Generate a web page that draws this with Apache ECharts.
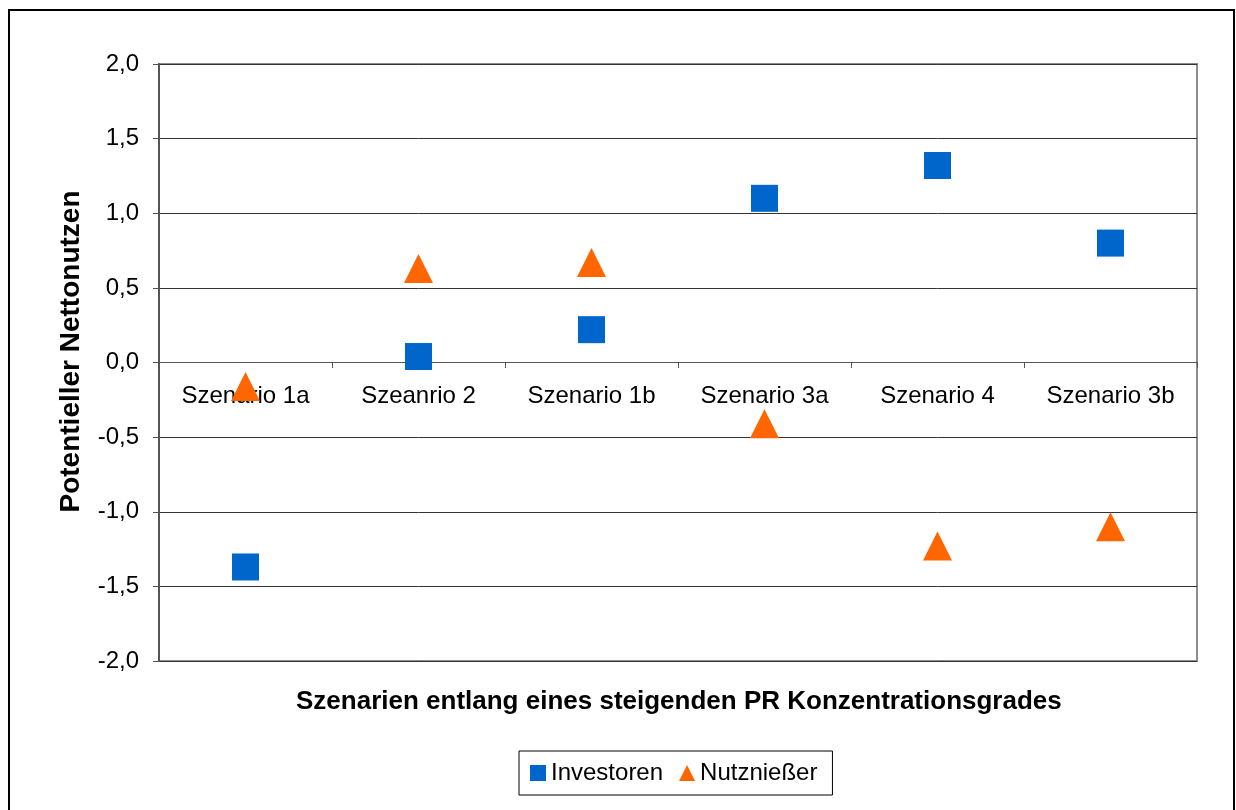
<!DOCTYPE html>
<html>
<head>
<meta charset="utf-8">
<script src="https://cdn.jsdelivr.net/npm/echarts@6/dist/echarts.min.js"></script>
<style>html,body{margin:0;padding:0;background:#fff}#c{width:1236px;height:810px}</style>
</head>
<body>
<div id="c"></div>
<script>
const categories = ['Szenario 1a', 'Szeanrio 2', 'Szenario 1b', 'Szenario 3a', 'Szenario 4', 'Szenario 3b'];
const investoren = [-1.37, 0.04, 0.22, 1.10, 1.32, 0.80];
const nutzniesser = [-0.16, 0.63, 0.67, -0.41, -1.23, -1.10];
const seriesNames = ['Investoren', 'Nutznießer'];
const yAxisTitle = 'Potentieller Nettonutzen';
const xAxisTitle = 'Szenarien entlang eines steigenden PR Konzentrationsgrades';

const font = 'Liberation Sans, Arial, sans-serif';
const chart = echarts.init(document.getElementById('c'), null, {renderer: 'canvas'});
chart.setOption({
  animation: false,
  backgroundColor: '#fff',
  grid: {left: 159, right: 39, top: 64, bottom: 149, show: true, borderColor: '#8c8c8c', borderWidth: 2, backgroundColor: 'transparent'},
  xAxis: {
    type: 'category',
    data: categories,
    boundaryGap: true,
    position: 'bottom',
    offset: -299,
    axisLine: {onZero: false, lineStyle: {color: '#555', width: 1}},
    axisTick: {show: true, length: 6, alignWithLabel: false, lineStyle: {color: '#555'}},
    axisLabel: {color: '#000', fontSize: 24, fontFamily: font, margin: 22, interval: 0},
    splitLine: {show: false}
  },
  yAxis: {
    type: 'value',
    min: -2, max: 2, interval: 0.5,
    name: yAxisTitle,
    nameLocation: 'middle',
    nameGap: 74,
    nameRotate: 90,
    nameTextStyle: {color: '#000', fontSize: 28, fontWeight: 'bold', fontFamily: font, padding: [0, 0, 0, 22]},
    axisLine: {show: true, lineStyle: {color: '#555', width: 2}},
    axisTick: {show: true, length: 6, lineStyle: {color: '#555'}},
    axisLabel: {color: '#000', fontSize: 24, fontFamily: font, margin: 20,
      formatter: v => v.toFixed(1).replace('.', ',')},
    splitLine: {show: true, lineStyle: {color: '#333', width: 1}}
  },
  legend: {
    data: [{name: seriesNames[0], icon: 'rect'}, {name: seriesNames[1], icon: 'triangle'}],
    left: 519, top: 751,
    itemWidth: 16, itemHeight: 16, itemGap: 16,
    padding: [10, 15, 10, 11],
    borderColor: '#000', borderWidth: 1,
    textStyle: {color: '#000', fontSize: 24, fontFamily: font}
  },
  graphic: [
    {type: 'rect', shape: {x: 9, y: 10, width: 1225, height: 820}, style: {fill: 'none', stroke: '#000', lineWidth: 2}, silent: true},
    {type: 'text', left: 296, top: 689, style: {text: xAxisTitle, fill: '#000', font: 'bold 26px ' + font}}
  ],
  series: [
    {name: seriesNames[0], type: 'scatter', data: investoren, symbol: 'rect', symbolSize: 27, itemStyle: {color: '#0066CC', opacity: 1}, z: 3},
    {name: seriesNames[1], type: 'scatter', data: nutzniesser, symbol: 'triangle', symbolSize: [29, 29], itemStyle: {color: '#FF6600', opacity: 1}, z: 3}
  ]
});
</script>
</body>
</html>
